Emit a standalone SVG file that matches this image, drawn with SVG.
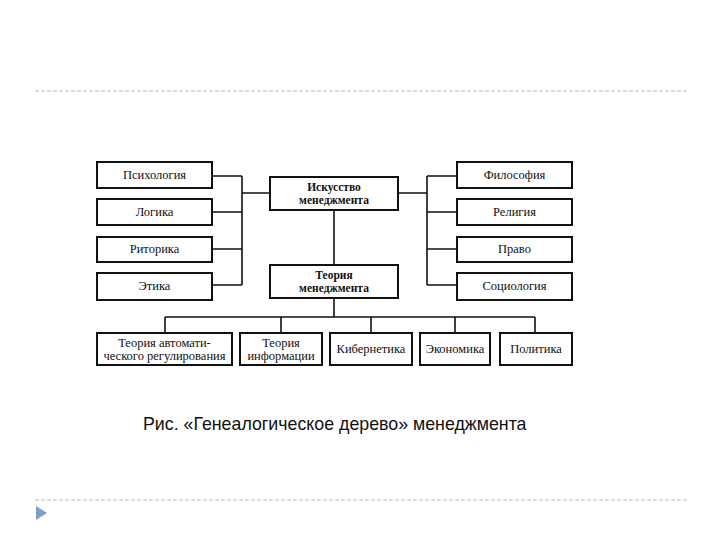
<svg xmlns="http://www.w3.org/2000/svg" width="720" height="540" viewBox="0 0 720 540">
<style>
.box{fill:#fff;stroke:#111;stroke-width:2}
.t{font-family:"Liberation Serif","Times New Roman",serif;font-size:12.5px;fill:#111;text-anchor:middle}
.b{font-weight:bold;font-size:11.5px}
.c{fill:none;stroke:#111;stroke-width:1.6}
.sep{stroke:#b8b8b8;stroke-width:1;stroke-dasharray:4 2}
.cap{font-family:"Liberation Sans",Arial,sans-serif;font-size:17.8px;fill:#111}
</style>
<rect width="720" height="540" fill="#fff"/>
<line class="sep" x1="35" y1="91" x2="688" y2="91"/>
<line class="sep" x1="35" y1="500" x2="688" y2="500"/>
<polygon points="36,506 47,513 36,520" fill="#7f9fc8"/>
<g id="connectors">
<path class="c" d="M212,176H242M212,212H242M212,249H242M212,285H242M242,176V285M242,193H270"/>
<path class="c" d="M398,193H427M427,176V285M427,176H457M427,212H457M427,249H457M427,285H457"/>
<path class="c" d="M334,210V265"/>
<path class="c" d="M334,298V317M165,317H535M165,317V333M281,317V333M371,317V333M455,317V333M535,317V333"/>
</g>
<g id="psy"><rect class="box" x="97" y="162" width="115" height="26"/><text class="t" x="154.5" y="179">Психология</text></g>
<g id="log"><rect class="box" x="97" y="199" width="115" height="26"/><text class="t" x="154.5" y="216">Логика</text></g>
<g id="rit"><rect class="box" x="97" y="237" width="115" height="25"/><text class="t" x="154.5" y="253">Риторика</text></g>
<g id="eth"><rect class="box" x="97" y="273" width="115" height="27"/><text class="t" x="154.5" y="290">Этика</text></g>
<g id="isk"><rect class="box" x="270" y="177" width="128" height="33"/><text class="t b" x="334" y="191">Искусство</text><text class="t b" x="334" y="204">менеджмента</text></g>
<g id="teo"><rect class="box" x="270" y="265" width="128" height="33"/><text class="t b" x="334" y="279">Теория</text><text class="t b" x="334" y="292">менеджмента</text></g>
<g id="fil"><rect class="box" x="457" y="162" width="115" height="26"/><text class="t" x="514.5" y="179">Философия</text></g>
<g id="rel"><rect class="box" x="457" y="199" width="115" height="26"/><text class="t" x="514.5" y="216">Религия</text></g>
<g id="pra"><rect class="box" x="457" y="237" width="115" height="25"/><text class="t" x="514.5" y="253">Право</text></g>
<g id="soc"><rect class="box" x="457" y="273" width="115" height="27"/><text class="t" x="514.5" y="290">Социология</text></g>
<g id="tar"><rect class="box" x="97" y="333" width="135" height="32"/><text class="t" x="164.5" y="347">Теория автомати-</text><text class="t" x="164.5" y="360">ческого регулирования</text></g>
<g id="tin"><rect class="box" x="240" y="333" width="82" height="32"/><text class="t" x="281" y="347">Теория</text><text class="t" x="281" y="360">информации</text></g>
<g id="kib"><rect class="box" x="330" y="333" width="82" height="32"/><text class="t" x="371" y="353">Кибернетика</text></g>
<g id="eko"><rect class="box" x="420" y="333" width="70" height="32"/><text class="t" x="455" y="353">Экономика</text></g>
<g id="pol"><rect class="box" x="500" y="333" width="72" height="32"/><text class="t" x="536" y="353">Политика</text></g>
<text class="cap" x="143" y="430">Рис. «Генеалогическое дерево» менеджмента</text>
</svg>
